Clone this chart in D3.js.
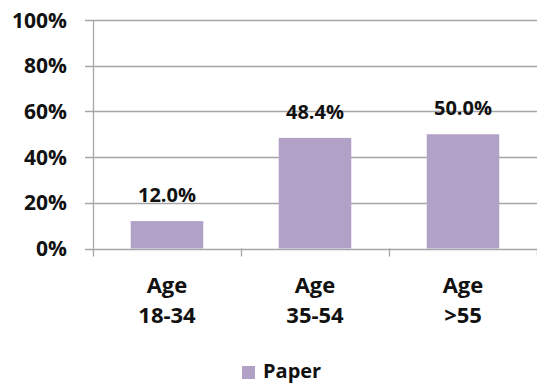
<!DOCTYPE html>
<html>
<head>
<meta charset="utf-8">
<script src="https://cdn.jsdelivr.net/npm/d3@7"></script>
<style>
  body { margin: 0; background: #fff; }
  svg text { font-family: "Open Sans", Lato, sans-serif; font-weight: bold; fill: #111; }
</style>
</head>
<body>
<script>
// chart data
var categories = [["Age", "18-34"], ["Age", "35-54"], ["Age", ">55"]];
var paper = [12.0, 48.4, 50.0];
var yTicks = [0, 20, 40, 60, 80, 100];
var seriesName = "Paper";

var width = 537, height = 387;
var margin = { top: 20, right: 0, bottom: 138, left: 93 };

var svg = d3.select("body").append("svg")
    .attr("width", width)
    .attr("height", height);

var x = d3.scaleBand()
    .domain(d3.range(categories.length))
    .range([margin.left, width - margin.right])
    .paddingInner(0.51)
    .paddingOuter(0.255);

var xEdge = d3.scaleLinear()
    .domain([0, categories.length])
    .range([margin.left, width - margin.right]);

var y = d3.scaleLinear()
    .domain([0, 100])
    .range([height - margin.bottom - 0.5, margin.top]);

// gridlines
svg.append("g")
    .selectAll("line")
    .data(yTicks)
    .enter().append("line")
    .attr("x1", margin.left - 8)
    .attr("x2", width)
    .attr("y1", function (d) { return Math.round(y(d)) + 0.5; })
    .attr("y2", function (d) { return Math.round(y(d)) + 0.5; })
    .attr("stroke", "#a6a6a6")
    .attr("stroke-width", 1.3);

// y axis line
svg.append("line")
    .attr("x1", margin.left + 0.5).attr("x2", margin.left + 0.5)
    .attr("y1", y(100)).attr("y2", y(0))
    .attr("stroke", "#a6a6a6").attr("stroke-width", 1.3);

// category separators
svg.append("g")
    .selectAll("line")
    .data(d3.range(categories.length + 1))
    .enter().append("line")
    .attr("x1", function (d) { return Math.round(xEdge(d)) + 0.5; })
    .attr("x2", function (d) { return Math.round(xEdge(d)) + 0.5; })
    .attr("y1", y(0))
    .attr("y2", y(0) + 8)
    .attr("stroke", "#a6a6a6").attr("stroke-width", 1.3);

// y tick labels
svg.append("g")
    .selectAll("text")
    .data(yTicks)
    .enter().append("text")
    .attr("x", 67)
    .attr("y", function (d) { return y(d); })
    .attr("dy", "0.36em")
    .attr("text-anchor", "end")
    .style("font-size", "21px")
    .text(function (d) { return d + "%"; });

// bars
svg.append("g")
    .selectAll("rect")
    .data(paper)
    .enter().append("rect")
    .attr("x", function (d, i) { return x(i); })
    .attr("width", x.bandwidth())
    .attr("y", function (d) { return y(d); })
    .attr("height", function (d) { return y(0) - y(d); })
    .attr("fill", "#b1a1c7");

// value labels
svg.append("g")
    .selectAll("text")
    .data(paper)
    .enter().append("text")
    .attr("x", function (d, i) { return x(i) + x.bandwidth() / 2; })
    .attr("y", function (d) { return y(d) - 19; })
    .attr("text-anchor", "middle")
    .style("font-size", "20px")
    .text(function (d) { return d.toFixed(1) + "%"; });

// category labels
var cat = svg.append("g")
    .selectAll("text")
    .data(categories)
    .enter().append("text")
    .attr("text-anchor", "middle")
    .style("font-size", "22px");

cat.selectAll("tspan")
    .data(function (d, i) { return d.map(function (s) { return { s: s, i: i }; }); })
    .enter().append("tspan")
    .attr("x", function (d) { return x(d.i) + x.bandwidth() / 2; })
    .attr("y", function (d, j) { return 293 + j * 30; })
    .text(function (d) { return d.s; });

// legend
var legend = svg.append("g");
legend.append("rect")
    .attr("x", 242).attr("y", 366)
    .attr("width", 13).attr("height", 13)
    .attr("fill", "#b1a1c7");
legend.append("text")
    .attr("x", 263).attr("y", 378)
    .style("font-size", "20px")
    .text(seriesName);
</script>
</body>
</html>
